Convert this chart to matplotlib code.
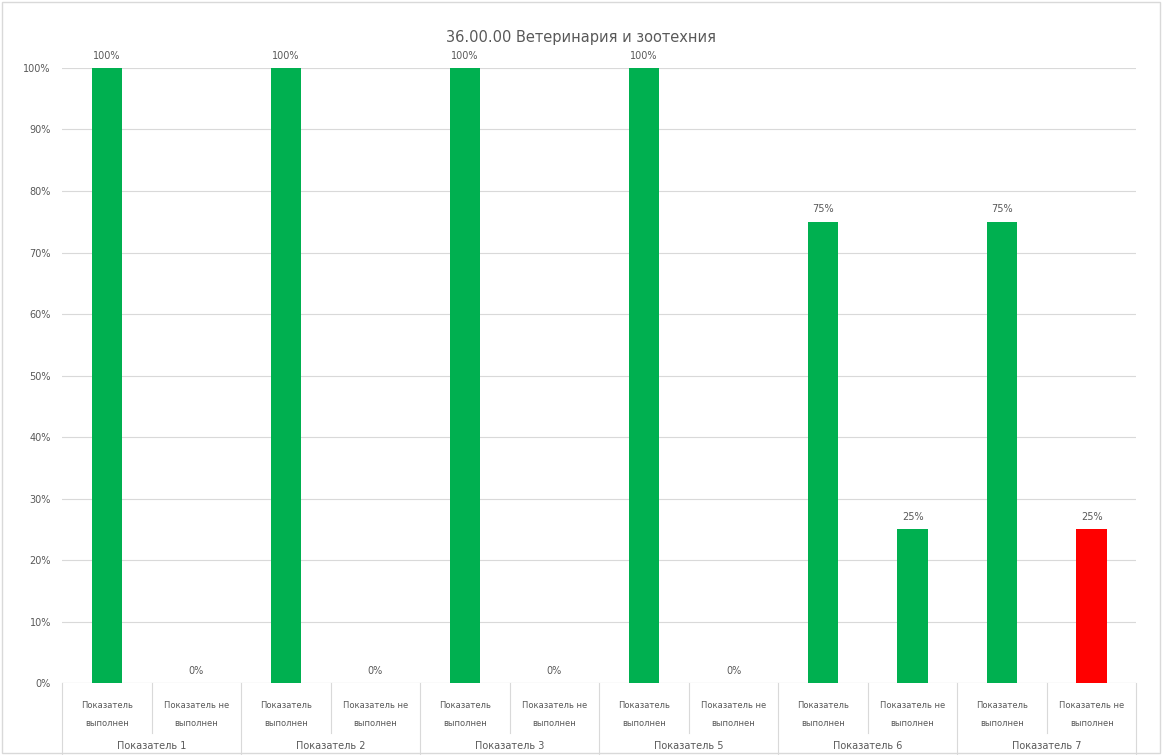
import matplotlib.pyplot as plt
from matplotlib.transforms import blended_transform_factory

title = '36.00.00 Ветеринария и зоотехния'
groups = ['Показатель 1', 'Показатель 2', 'Показатель 3', 'Показатель 5', 'Показатель 6', 'Показатель 7']
subcats = ['Показатель\nвыполнен', 'Показатель не\nвыполнен']
values = [100, 0, 100, 0, 100, 0, 100, 0, 75, 25, 75, 25]
colors = ['#00B050'] * 11 + ['#FF0000']

labels = subcats * len(groups)
x = list(range(len(values)))

fig = plt.figure(figsize=(11.62, 7.55), dpi=100)
ax = fig.add_axes([0.0534, 0.095, 0.9246, 0.815])

ax.bar(x, values, width=0.34, color=colors, zorder=3)
for xi, v in zip(x, values):
    ax.text(xi, v + 1.2, f'{v}%', ha='center', va='bottom', fontsize=7, color='#595959')

ax.set_xlim(-0.5, len(values) - 0.5)
ax.set_ylim(0, 100)
ax.set_yticks(range(0, 101, 10))
ax.set_yticklabels([f'{t}%' for t in range(0, 101, 10)], fontsize=7, color='#595959')
ax.set_xticks(x)
ax.set_xticklabels(labels, fontsize=6, color='#595959', linespacing=2.2)
ax.tick_params(axis='x', length=0, pad=13)
ax.tick_params(axis='y', length=0, pad=8)
ax.grid(axis='y', color='#D9D9D9', linewidth=0.8, zorder=0)
for s in ax.spines.values():
    s.set_visible(False)
ax.axhline(0, color='#D9D9D9', linewidth=0.8, zorder=1)

tr = blended_transform_factory(ax.transData, ax.transAxes)
for i, g in enumerate(groups):
    ax.text(2 * i + 0.5, -0.102, g, transform=tr, ha='center', va='center', fontsize=7, color='#595959')
for b in range(len(groups) + 1):
    ax.plot([2 * b - 0.5, 2 * b - 0.5], [0, -0.125], transform=tr, color='#D9D9D9', linewidth=0.8, clip_on=False)
for c in range(len(values)):
    if c % 2 == 1:
        ax.plot([c - 0.5, c - 0.5], [0, -0.08], transform=tr, color='#D9D9D9', linewidth=0.8, clip_on=False)

fig.text(0.5, 0.95, title, ha='center', va='center', fontsize=10.5, color='#595959')
fig.patches.append(plt.Rectangle((0.002, 0.002), 0.996, 0.996, transform=fig.transFigure,
                                 fill=False, edgecolor='#D9D9D9', linewidth=1))

fig.savefig('out.png', dpi=100)
